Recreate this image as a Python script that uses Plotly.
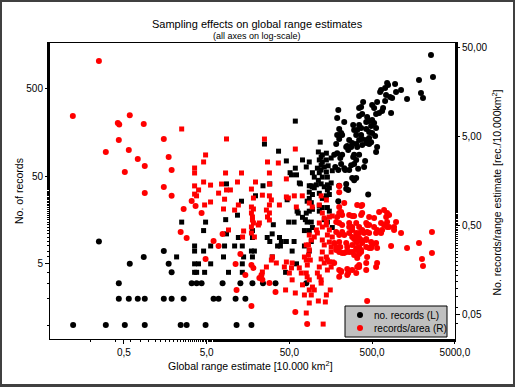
import plotly.graph_objects as go

# ---- data ----------------------------------------------------------------
# black series: global range estimate [10.000 km2] vs. number of records (left axis)
range_black = [
    0.122, 0.303, 0.514, 0.895, 2.43, 2.87, 4.86, 11.5, 17.4,
    0.435, 0.574, 0.737, 0.895, 1.52, 1.89, 2.64, 6.07, 6.97, 11.2, 14.7,
    0.435, 3.30, 3.79, 4.35, 7.8, 12.8, 17.9, 24, 34, 80,
    1.89, 3.58, 3.79, 4.73, 9.2, 13.5, 45,
    0.59, 1.74, 3.58, 3.99, 5.6, 13.5, 61,
    0.87, 2.17, 8.0, 14.0, 17.9, 31,
    1.52, 3.58, 4.6, 17.4, 18.9, 54, 87,
    3.58, 5.6, 8.24, 10.9, 13.5, 39, 36, 76,
    0.25, 92, 29, 40, 46, 57,
    12.1, 17.9, 38, 27, 8.7, 31, 4.6, 17.9, 76, 87,
    95, 165, 32, 2.5, 4.86, 49, 82, 57, 92, 144,
    8.5, 78, 132, 72, 11.8, 80, 64, 87, 62, 152, 115,
    95, 144, 125, 115, 92, 13.2, 82, 195, 47, 87, 125,
    19.5, 140, 95, 152, 448, 115, 87, 144, 257, 243, 152, 100,
    132, 95, 87, 24, 200, 92, 144, 106, 8.7, 121, 68, 29, 243,
    160, 66, 112, 303, 287, 321, 144, 125, 100, 61, 53,
    115, 95, 51, 140, 165, 121, 264, 236, 195, 339, 109, 59, 230,
    132, 80, 400, 179, 147, 121, 279, 303, 211, 125, 87, 411, 46,
    115, 140, 72, 321, 206, 160, 121, 295, 125, 303, 348, 217, 174,
    140, 189, 112, 558, 37, 257, 574, 279, 330, 243, 250, 379,
    321, 460, 184, 25, 287, 424, 486, 118, 348, 424, 264, 200, 379,
    460, 543, 189, 217, 321, 368, 500, 211, 460, 330, 303, 424, 200,
    368, 558, 486, 295, 348, 528, 230, 424, 460, 59, 500, 189, 435,
    348, 558, 379, 847, 607, 660, 195, 678, 528, 348, 368, 500,
    574, 389, 717, 1320, 2057, 871, 823, 736, 1945, 972, 624,
    1117, 641, 717, 779, 946, 758, 1841, 2716, 2570,
]
records_black = [
    1, 1, 1, 1, 1, 1, 1, 1, 1,
    2, 2, 2, 2, 2, 2, 2, 2, 2, 2, 2,
    3, 3, 3, 3, 3, 3, 3, 3, 3, 3,
    4, 4, 4, 4, 4, 4, 4,
    5, 5, 5, 5, 5, 5, 5,
    6, 6, 6, 6, 6, 6,
    7, 7, 7, 7, 7, 7, 7,
    8, 8, 8, 8, 8, 8, 8, 8,
    9, 9, 9, 9, 9, 9,
    10, 10, 10, 10, 11, 11, 12, 12, 12, 12,
    13, 13, 14, 15, 15, 15, 15, 15, 15, 15,
    16, 16, 16, 17, 18, 19, 19, 20, 20, 20, 20,
    21, 22, 22, 23, 25, 26, 26, 26, 27, 28, 28,
    30, 30, 31, 31, 31, 32, 33, 35, 35, 36, 37, 37,
    38, 38, 39, 39, 39, 39, 40, 40, 41, 41, 41, 41, 41,
    42, 42, 45, 45, 48, 48, 49, 49, 49, 52, 52,
    55, 55, 55, 56, 58, 59, 59, 59, 59, 61, 62, 62, 62,
    64, 64, 64, 64, 66, 67, 67, 69, 69, 73, 73, 75, 75,
    77, 77, 77, 77, 81, 81, 83, 83, 88, 88, 88, 88, 88,
    92, 92, 95, 95, 97, 100, 108, 108, 108, 108, 111, 114,
    117, 117, 117, 117, 120, 120, 123, 123, 130, 130, 130, 134, 134,
    137, 145, 148, 148, 148, 148, 156, 156, 161, 169, 169, 174, 174,
    178, 178, 188, 193, 193, 204, 209, 209, 214, 214, 220, 232, 238,
    245, 258, 258, 265, 265, 279, 286, 302, 302, 302, 310, 327,
    354, 354, 363, 383, 393, 393, 403, 425, 448, 460, 460,
    485, 485, 511, 553, 568, 583, 631, 683, 1219,
]

# red series: global range estimate vs. records per area [rec./10.000 km2] (right axis)
range_red = [
    0.25, 0.121, 0.59, 0.423, 0.44, 0.87, 2.5, 0.435, 1.52, 0.303, 0.574, 0.737, 1.74, 0.895, 0.514, 1.89, 1.52, 0.895,
    8.7, 4.86, 4.6, 3.58, 3.58, 8.47, 13.2, 4.6, 5.58, 7.58, 11.8, 19.5, 3.58,
    25.0, 59, 27.2, 36.8, 28.7, 46, 28.7,
    17.4, 4.0, 6.98, 8.7, 9.7, 1.89, 3.58, 3.78, 8.24, 18.4, 3.3, 5.58, 4.73, 12.1, 3.68, 17.4, 18.4, 2.64, 8.0, 10.9,
    4.35, 17.4, 17.9, 17.9, 18.4, 17.4, 21.1, 2.43, 2.87, 9.2, 14.0, 7.8, 13.6, 18.9, 17.4, 6.07, 6.98, 12.8, 4.86, 11.2, 17.4, 18.4, 14.7, 11.5, 17.4,
    200, 23.6, 28.7, 30.3, 28.7, 46, 48.6, 57.4, 71.6, 37.9, 26.4, 28.7, 27.2, 28.7, 21.7,
    60.7, 87, 94.6, 121, 140, 115, 200, 330, 379, 607, 697, 758, 738, 264, 287,
    200, 217, 189, 152, 165, 125, 132, 140, 115, 125, 140, 106, 109, 100, 87,
    92, 85, 87, 85, 89.5, 82.4, 80, 184, 200, 217, 264, 287, 321, 348, 424,
    460, 528, 972, 920, 1117, 758, 641, 660, 558, 400, 435, 348, 321, 264, 287,
    217, 230, 184, 200, 165, 152, 144, 125, 132, 152, 160, 174, 200, 206, 243,
    250, 287, 321, 348, 379, 424, 460, 500, 558, 574, 424, 348, 368, 321, 264,
    217, 243, 287, 184, 200, 125, 140, 144, 121, 132, 115, 152, 160, 144, 200,
    211, 250, 257, 330, 348, 424, 174, 109, 115, 121, 80, 82, 87, 76, 80,
    54, 53, 50, 43.5, 46, 34.8, 31.2, 30.3, 26.4, 23.6, 23, 65.9, 69.7,
    230, 368, 200, 211, 303, 368, 379, 460, 528, 801, 758, 641, 697, 801, 920,
    2640, 1841, 1320, 2640, 2000, 2057, 847, 574, 435, 460, 379, 264, 287, 321, 303,
    330, 368, 424, 486, 321, 368, 486, 230, 303, 348, 184, 160, 165, 330, 435,
    574, 558, 424, 348, 287, 321, 250, 211, 200,
    59, 80, 82, 128, 87, 112, 136, 435, 140, 156, 92, 87, 59, 45, 34, 121, 95, 100, 72, 76, 54, 28.7, 23.6, 21.7,
]
density_red = [
    35.7, 8.6, 8.8, 7.2, 6.9, 7.0, 6.15, 4.62, 4.74, 3.39, 3.57, 2.83, 2.98, 2.36, 2.02, 2.13, 1.37, 1.17,
    4.75, 3.14, 2.62, 2.24, 1.97, 1.97, 1.97, 1.56, 1.44, 1.48, 1.56, 1.56, 1.41,
    4.74, 3.66, 2.62, 2.55, 1.97, 1.69, 1.48,
    1.30, 1.27, 1.17, 1.27, 1.27, 1.09, 1.14, 1.09, 1.0, 1.03, 0.955, 0.93, 0.861, 0.861, 0.84, 0.817, 0.776, 0.776, 0.776, 0.755,
    0.70, 0.70, 0.631, 0.584, 0.54, 0.487, 0.513, 0.428, 0.366, 0.451, 0.439, 0.407, 0.376, 0.376, 0.417, 0.339, 0.298, 0.242, 0.213, 0.187, 0.182, 0.169, 0.141, 0.0955, 0.0631,
    1.41, 1.11, 1.09, 0.98, 0.861, 1.06, 1.03, 1.09, 1.09, 0.861, 0.755, 0.70, 0.631, 0.584, 0.54,
    0.817, 0.906, 0.817, 1.09, 0.98, 0.861, 1.20, 0.861, 0.861, 0.718, 0.755, 0.70, 0.631, 0.664, 0.647,
    0.70, 0.664, 0.631, 0.631, 0.647, 0.70, 0.615, 0.555, 0.54, 0.487, 0.513, 0.451, 0.417, 0.376, 0.396,
    0.348, 0.306, 0.269, 0.236, 0.207, 0.182, 0.306, 0.555, 0.54, 0.513, 0.54, 0.487, 0.54, 0.487, 0.54,
    0.513, 0.487, 0.555, 0.487, 0.417, 0.487, 0.417, 0.451, 0.417, 0.417, 0.428, 0.417, 0.376, 0.417, 0.376,
    0.428, 0.396, 0.428, 0.396, 0.376, 0.451, 0.396, 0.348, 0.306, 0.330, 0.290, 0.322, 0.330, 0.290, 0.322,
    0.290, 0.306, 0.330, 0.290, 0.322, 0.290, 0.283, 0.306, 0.322, 0.283, 0.348, 0.366, 0.255, 0.269, 0.255,
    0.249, 0.255, 0.255, 0.269, 0.255, 0.255, 0.224, 0.207, 0.213, 0.192, 0.173, 0.197, 0.173, 0.160, 0.160,
    0.152, 0.141, 0.148, 0.173, 0.182, 0.192, 0.192, 0.148, 0.134, 0.124, 0.148, 0.134, 0.124, 0.224, 0.207,
    0.192, 0.169, 0.148, 0.173, 0.197, 0.192, 0.224, 0.207, 0.173, 0.152, 0.141, 0.169, 0.148,
    0.906, 0.84, 0.817, 0.718, 0.647, 0.664, 0.70, 0.631, 0.615, 0.664, 0.555, 0.54, 0.513, 0.487, 0.451,
    0.428, 0.322, 0.283, 0.249, 0.213, 0.178, 0.298, 0.451, 0.513, 0.417, 0.451, 0.487, 0.451, 0.417, 0.357,
    0.330, 0.348, 0.357, 0.330, 0.283, 0.269, 0.283, 0.249, 0.236, 0.242, 0.290, 0.255, 0.197, 0.218, 0.224,
    0.192, 0.173, 0.160, 0.173, 0.160, 0.148, 0.164, 0.156, 0.134,
    0.054, 0.0526, 0.0395, 0.0395, 0.0682, 0.0718, 0.070, 0.072, 0.0839, 0.0955, 0.0839, 0.0955, 0.0883, 0.0955, 0.0906, 0.114, 0.103, 0.0955, 0.109, 0.0839, 0.124, 0.114, 0.124, 0.130,
]

x_tickvals = [0.5, 5, 50, 500, 5000]
x_ticktext = ["0,5", "5,0", "50,0", "500,0", "5000,0"]
yl_tickvals = [5, 50, 500]
yl_ticktext = ["5", "50", "500"]
yr_tickvals = [0.05, 0.5, 5, 50]
yr_ticktext = ["0,05", "0,50", "5,00", "50,00"]
legend_labels = ["no. records (L)", "records/area (R)"]

assert len(range_black) == len(records_black)
assert len(range_red) == len(density_red)

# ---- styling -------------------------------------------------------------
FONT = "Liberation Sans, Arial, sans-serif"
BLACK = "#000000"
RED = "#ff0000"

# plot area in pixels: x 50..455, y 43..339 (figure 515 x 387)
L, R, T, B = 50, 455, 43, 339


def px(x):
    return (x - L) / (R - L)


def py(y):
    return (B - y) / (B - T)


def is_square(x, count):
    # the mid-range species are drawn with square markers in the original
    return 2 < x < 170 and count > 3.5


def split(xs, ys, counts):
    cx, cy, sx, sy = [], [], [], []
    for x, y, c in zip(xs, ys, counts):
        if is_square(x, c):
            sx.append(x); sy.append(y)
        else:
            cx.append(x); cy.append(y)
    return cx, cy, sx, sy


bcx, bcy, bsx, bsy = split(range_black, records_black, records_black)
red_counts = [x * r for x, r in zip(range_red, density_red)]
rcx, rcy, rsx, rsy = split(range_red, density_red, red_counts)

fig = go.Figure()
fig.add_trace(go.Scatter(x=bsx, y=bsy, mode="markers", yaxis="y", name=legend_labels[0],
                         marker=dict(symbol="square", size=5, color=BLACK, line=dict(width=0))))
fig.add_trace(go.Scatter(x=bcx, y=bcy, mode="markers", yaxis="y", name=legend_labels[0],
                         marker=dict(symbol="circle", size=6, color=BLACK, line=dict(width=0))))
fig.add_trace(go.Scatter(x=rsx, y=rsy, mode="markers", yaxis="y2", name=legend_labels[1],
                         marker=dict(symbol="square", size=5, color=RED, line=dict(width=0))))
fig.add_trace(go.Scatter(x=rcx, y=rcy, mode="markers", yaxis="y2", name=legend_labels[1],
                         marker=dict(symbol="circle", size=6, color=RED, line=dict(width=0))))

axis_common = dict(
    type="log", showgrid=False, zeroline=False, showline=True, linecolor="black", linewidth=1,
    ticks="outside", ticklen=4, tickwidth=1, tickcolor="black",
    tickfont=dict(family=FONT, size=10, color="black"),
    minor=dict(ticks="outside", ticklen=2, tickwidth=1, tickcolor="black", showgrid=False),
)

# hand-drawn legend box (compact like the original)
legend_shapes = [
    dict(type="rect", xref="paper", yref="paper", layer="above",
         x0=px(345), x1=px(447), y0=py(337), y1=py(306),
         fillcolor="#c0c0c0", line=dict(color="black", width=1)),
    dict(type="circle", xref="paper", yref="paper", layer="above",
         x0=px(357), x1=px(363), y0=py(318), y1=py(312),
         fillcolor=BLACK, line=dict(width=0)),
    dict(type="circle", xref="paper", yref="paper", layer="above",
         x0=px(357), x1=px(363), y0=py(331), y1=py(325),
         fillcolor=RED, line=dict(width=0)),
]
legend_texts = [
    dict(text=legend_labels[0], x=px(372), y=py(315), xanchor="left", yanchor="middle",
         xref="paper", yref="paper", showarrow=False, font=dict(size=10)),
    dict(text=legend_labels[1], x=px(372), y=py(328), xanchor="left", yanchor="middle",
         xref="paper", yref="paper", showarrow=False, font=dict(size=10)),
]

fig.update_layout(
    width=515, height=387,
    margin=dict(l=L, r=515 - R, t=T, b=387 - B, pad=0),
    paper_bgcolor="#404040", plot_bgcolor="white",
    font=dict(family=FONT, size=11, color="black"),
    xaxis=dict(axis_common, range=[-1.193, 3.7], tickmode="array",
               tickvals=x_tickvals, ticktext=x_ticktext, mirror=True),
    yaxis=dict(axis_common, range=[-0.16, 3.223], tickmode="array",
               tickvals=yl_tickvals, ticktext=yl_ticktext),
    yaxis2=dict(axis_common, range=[-1.571, 1.755], tickmode="array",
                tickvals=yr_tickvals, ticktext=yr_ticktext, overlaying="y", side="right"),
    showlegend=False,
    shapes=[dict(type="rect", xref="paper", yref="paper", layer="below",
                 x0=px(2), x1=px(513), y0=py(384), y1=py(2),
                 fillcolor="white", line=dict(width=0))] + legend_shapes,
    annotations=[
        dict(text="Sampling effects on global range estimates", x=px(257), y=py(16),
             xref="paper", yref="paper", showarrow=False, font=dict(size=11)),
        dict(text="(all axes on log-scale)", x=px(257), y=py(29),
             xref="paper", yref="paper", showarrow=False, font=dict(size=9)),
        dict(text="Global range estimate [10.000 km<sup>2</sup>]", x=px(250), y=py(374),
             xref="paper", yref="paper", showarrow=False, font=dict(size=10.5)),
        dict(text="No. of records", x=px(11), y=py(191), textangle=-90,
             xref="paper", yref="paper", showarrow=False, font=dict(size=10.5)),
        dict(text="No. records/range estimate [rec./10.000km<sup>2</sup>]", x=px(504), y=py(192),
             textangle=-90, xref="paper", yref="paper", showarrow=False, font=dict(size=10.5)),
    ] + legend_texts,
)

fig.write_html("out.html", config={"displayModeBar": False},
               post_script="document.body.style.margin='0';document.body.style.overflow='hidden';")
